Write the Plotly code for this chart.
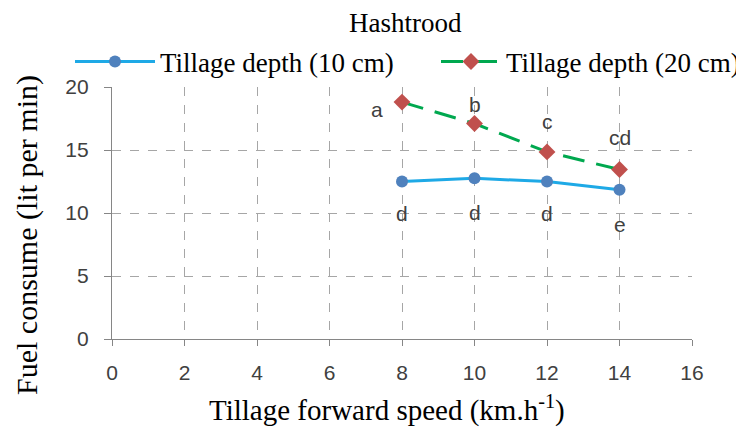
import plotly.graph_objects as go

speed = [8, 10, 12, 14]
fuel_10cm = [12.5, 12.75, 12.5, 11.85]
fuel_20cm = [18.8, 17.1, 14.85, 13.45]
labels_10cm = ["d", "d", "d", "e"]
labels_20cm = ["a", "b", "c", "cd"]
x_ticks = [0, 2, 4, 6, 8, 10, 12, 14, 16]
y_ticks = [0, 5, 10, 15, 20]

SERIF = "Liberation Serif, Times New Roman, serif"
SANS = "Liberation Sans, Arial, sans-serif"

fig = go.Figure()
fig.add_trace(go.Scatter(
    x=speed, y=fuel_10cm, mode="lines+markers", name="Tillage depth (10 cm)",
    line=dict(color="#1ea9e6", width=3),
    marker=dict(symbol="circle", size=12, color="#4f81bd"),
    legend="legend",
))
fig.add_trace(go.Scatter(
    x=speed, y=fuel_20cm, mode="lines+markers", name="Tillage depth (20 cm)",
    line=dict(color="#00a84f", width=3, dash="22px,12px"),
    marker=dict(symbol="diamond", size=13, color="#c0504d"),
    legend="legend2",
))

# letter labels (offsets in px relative to each point)
off_20 = [(-25, -7), (0, 19), (0, 30), (0, 32)]
off_10 = [(0, -32), (0, -34), (0, -32), (0, -35)]
for xs, ys, ls, offs in [(speed, fuel_20cm, labels_20cm, off_20),
                         (speed, fuel_10cm, labels_10cm, off_10)]:
    for x, y, t, (dx, dy) in zip(xs, ys, ls, offs):
        fig.add_annotation(x=x, y=y, text=t, showarrow=False, xshift=dx, yshift=dy,
                           font=dict(family=SANS, size=21, color="#404040"))

# axis titles (placed like the reference, slightly off-centre)
fig.add_annotation(text="Tillage forward speed (km.h<sup>-1</sup>)", xref="paper", yref="paper",
                   x=0.474, y=-0.274, xanchor="center", yanchor="middle", showarrow=False,
                   font=dict(family=SERIF, size=29, color="black"))
fig.add_annotation(text="Fuel consume (lit per min)", xref="paper", yref="paper",
                   x=-0.1466, y=0.4127, xanchor="center", yanchor="middle", showarrow=False,
                   textangle=-90, font=dict(family=SERIF, size=30, color="black"))

grid = "#a6a6a6"
leg_common = dict(orientation="h", xref="container", yref="container", xanchor="left",
                  yanchor="middle", y=1 - 54 / 429, bgcolor="rgba(0,0,0,0)",
                  font=dict(family=SERIF, size=27, color="black"))
fig.update_layout(
    width=744, height=429,
    margin=dict(l=104, r=60, t=79, b=98, autoexpand=False),
    paper_bgcolor="white", plot_bgcolor="white",
    title=dict(text="Hashtrood", x=0.534, xanchor="center", y=1 - 15 / 429, yanchor="middle",
               xref="container", yref="container",
               font=dict(family=SERIF, size=27, color="black")),
    legend=dict(x=62 / 744, itemwidth=80, **leg_common),
    legend2=dict(x=428 / 744, itemwidth=60, **leg_common),
    showlegend=True,
    xaxis=dict(
        range=[0, 16], tickvals=x_ticks, showgrid=True, gridcolor=grid, griddash="dash",
        gridwidth=1, showline=True, linecolor="#868686", linewidth=1.3,
        ticks="outside", ticklen=6, tickcolor="#868686", zeroline=False, automargin=False,
        ticklabelstandoff=9,
        tickfont=dict(family=SANS, size=21, color="#404040"),
    ),
    yaxis=dict(
        range=[0, 20], tickvals=y_ticks, showgrid=True, gridcolor=grid, griddash="dash",
        gridwidth=1, showline=True, linecolor="#868686", linewidth=1.3,
        ticks="outside", ticklen=7, tickcolor="#868686", zeroline=False, automargin=False,
        ticklabelstandoff=11,
        tickfont=dict(family=SANS, size=21, color="#404040"),
    ),
)
fig.write_html("out.html")
